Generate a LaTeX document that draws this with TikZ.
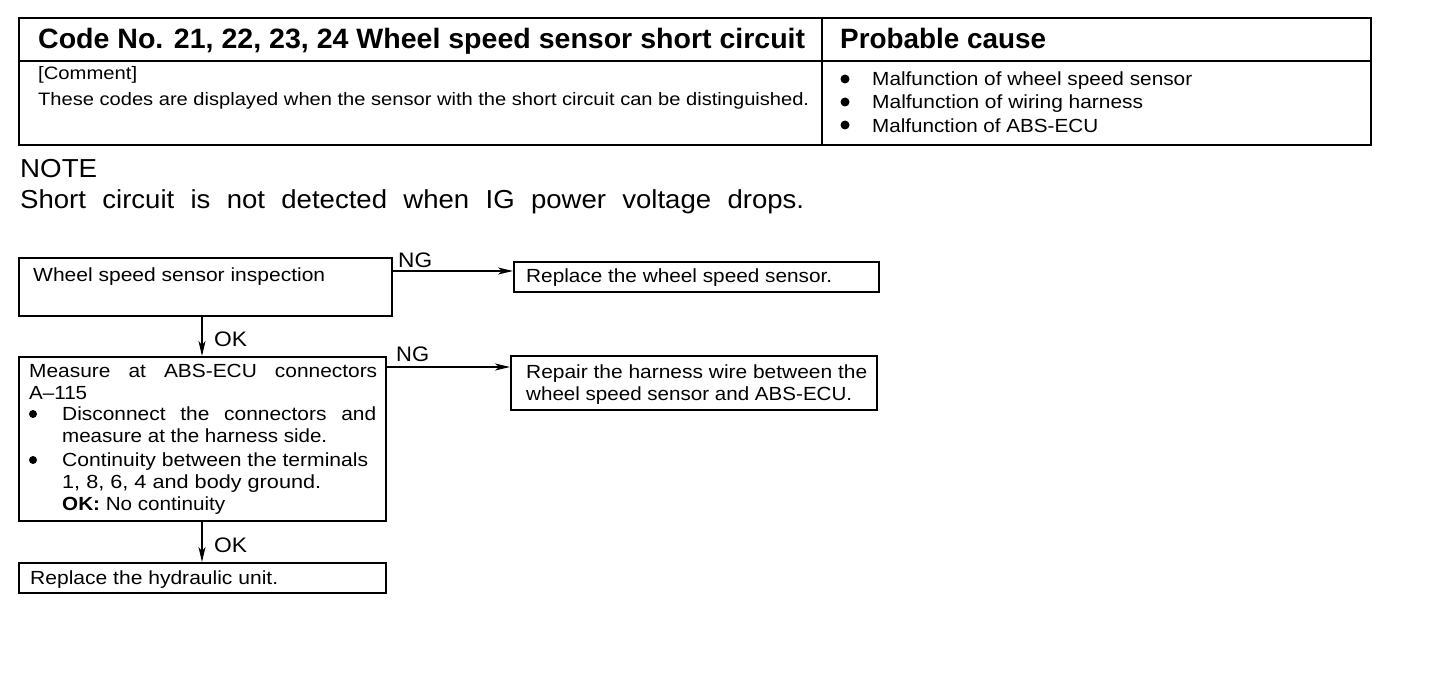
\documentclass[tikz,border=0pt]{standalone}
\usepackage{fontspec}
\setmainfont{Liberation Sans}
\newfontfamily\wf{Liberation Sans}[FakeStretch=1.1]
\newfontfamily\nf{Liberation Sans}[FakeStretch=1.06]
\usepackage{graphicx}
\usetikzlibrary{arrows.meta}
\newcommand{\fw}[2]{\resizebox{#1pt}{\height}{#2}}
\newcommand{\sw}[2]{{\wf\makebox[#1pt][s]{#2}}}
\begin{document}
\begin{tikzpicture}[x=1pt,y=-1pt,
  box/.style={draw,line width=1.7pt,anchor=north west,inner sep=0pt},
  dot/.style={circle,fill,inner sep=0pt,minimum size=9pt},
  txt/.style={anchor=base west,inner sep=0pt,font=\fontsize{19}{22}\selectfont},
  small/.style={anchor=base west,inner sep=0pt,font=\fontsize{18}{21}\selectfont},
  head/.style={anchor=base west,inner sep=0pt,font=\fontsize{28}{32}\selectfont\bfseries},
  big/.style={anchor=base west,inner sep=0pt,font=\fontsize{26}{30}\selectfont},
  lbl/.style={anchor=base west,inner sep=0pt,font=\fontsize{21}{24}\selectfont},
  arr/.style={line width=1.3pt,-{Stealth[length=15pt,width=7pt,inset=4pt]}}]
\useasboundingbox (0,0) rectangle (1440,674);
% table
\node[box,line width=1.9pt,minimum width=1352pt,minimum height=127pt] (tab) at (18,17) {};
\coordinate (hl) at (18,61);
\coordinate (hr) at (1370,61);
\coordinate (vt) at (822,17);
\coordinate (vb) at (822,144);
\draw[line width=1.3pt] (hl) -- (hr);
\draw[line width=1.5pt] (vt) -- (vb);
\node[head] (h1) at (38,49) {\fw{767}{Code No. 21, 22, 23, 24 Wheel speed sensor short circuit}};
\node[head] (h2) at (840,49) {\fw{206}{Probable cause}};
\node[small] (c1) at (38,80) {\fw{99}{[Comment]}};
\node[small] (c2) at (38,106) {\fw{771}{These codes are displayed when the sensor with the short circuit can be distinguished.}};
\node[dot] (p1b) at (845,79) {};
\node[txt] (p1) at (872,86) {\fw{320}{Malfunction of wheel speed sensor}};
\node[dot] (p2b) at (845,102) {};
\node[txt] (p2) at (872,109) {\fw{271}{Malfunction of wiring harness}};
\node[dot] (p3b) at (845,125) {};
\node[txt] (p3) at (872,132) {\fw{226}{Malfunction of ABS-ECU}};
% note
\node[big] (note) at (20,177) {\fw{77}{NOTE}};
\node[big] (note2) at (20,208) {\nf\makebox[784pt][s]{Short circuit is not detected when IG power voltage drops.}};
% flow boxes
\node[box,minimum width=373pt,minimum height=58pt] (b1) at (18,257) {};
\node[box,minimum width=365pt,minimum height=30pt] (b2) at (513,261) {};
\node[box,minimum width=367pt,minimum height=164pt] (b3) at (18,356) {};
\node[box,minimum width=366pt,minimum height=54pt] (b4) at (510,355) {};
\node[box,minimum width=367pt,minimum height=30pt] (b5) at (18,562) {};
% flow texts
\node[txt] (t1) at (33,281) {\fw{292}{Wheel speed sensor inspection}};
\node[txt] (t2) at (526,282) {\fw{306}{Replace the wheel speed sensor.}};
\node[txt] (t3a) at (29,377) {\sw{348}{Measure at ABS-ECU connectors}};
\node[txt] (t3b) at (29,399) {\fw{58}{A–115}};
\node[dot,minimum size=8pt] (t3c) at (33,414) {};
\node[txt] (t3d) at (62,420) {\sw{314}{Disconnect the connectors and}};
\node[txt] (t3e) at (62,442) {\fw{265}{measure at the harness side.}};
\node[dot,minimum size=8pt] (t3f) at (33,460) {};
\node[txt] (t3g) at (62,466) {\fw{306}{Continuity between the terminals}};
\node[txt] (t3h) at (62,488) {\fw{259}{1, 8, 6, 4 and body ground.}};
\node[txt] (t3i) at (62,510) {\fw{163}{\textbf{OK:} No continuity}};
\node[txt] (t4a) at (526,378) {\fw{341}{Repair the harness wire between the}};
\node[txt] (t4b) at (526,400) {\fw{326}{wheel speed sensor and ABS-ECU.}};
\node[txt] (t5) at (30,584) {\fw{248}{Replace the hydraulic unit.}};
% connectors
\draw[arr] ([yshift=-14pt]b1.north east) -- ([yshift=-14pt]b1.north east -| b2.west);
\draw[arr] ([yshift=-11pt]b3.north east) -- ([yshift=-11pt]b3.north east -| b4.west);
\draw[arr] (b1.south -| 202,0) -- (b3.north -| 202,0);
\draw[arr] (b3.south -| 202,0) -- (b5.north -| 202,0);
\node[lbl] (ng1) at (398,267) {\fw{34}{NG}};
\node[lbl] (ng2) at (396,361) {\fw{33}{NG}};
\node[lbl] (ok1) at (214,346) {\fw{33}{OK}};
\node[lbl] (ok2) at (214,552) {\fw{33}{OK}};
\end{tikzpicture}
\end{document}
